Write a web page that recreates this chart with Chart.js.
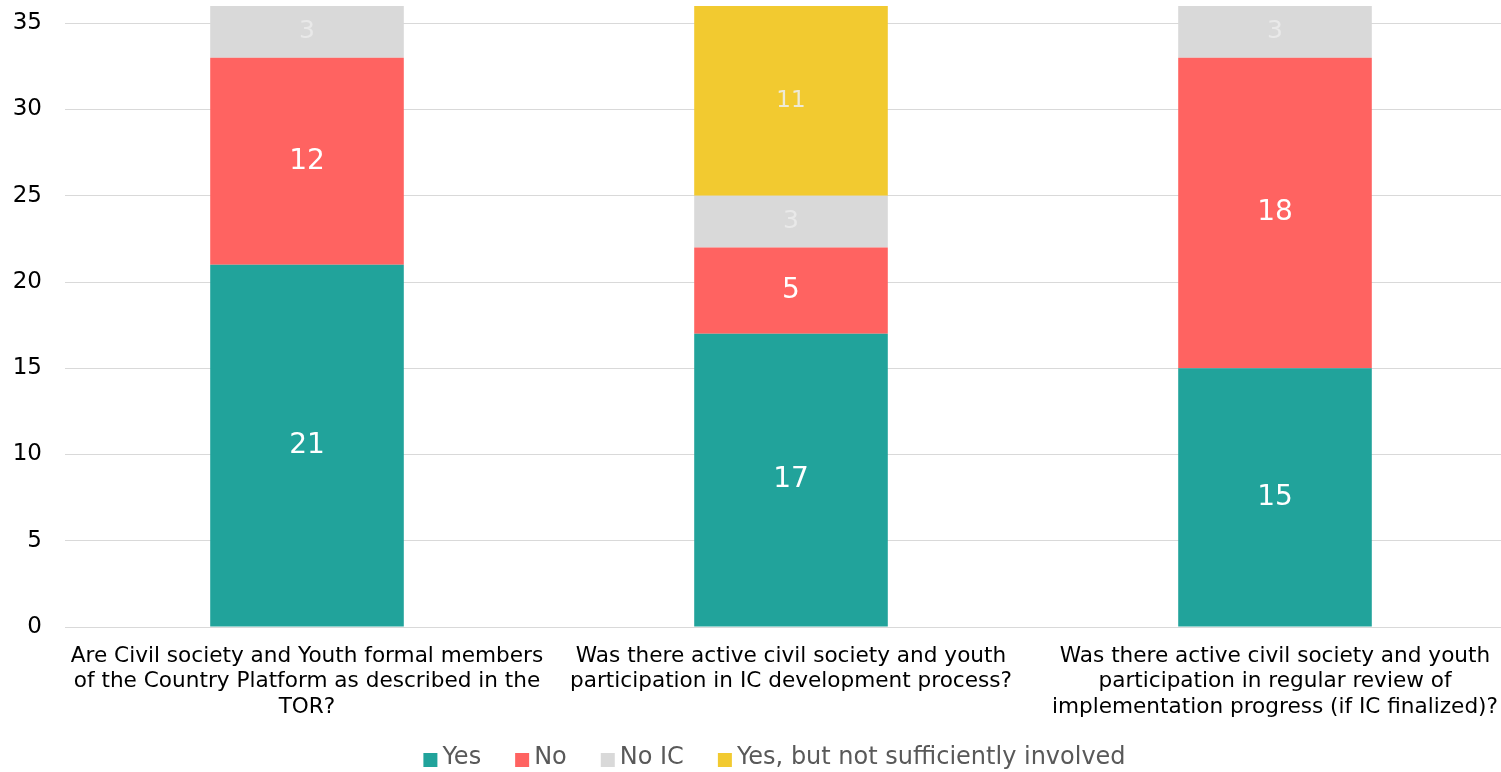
<!DOCTYPE html>
<html>
<head>
<meta charset="utf-8">
<script src="https://cdn.jsdelivr.net/npm/chart.js@4/dist/chart.umd.min.js"></script>
<style>
  html, body { margin: 0; padding: 0; background: #fff; overflow: hidden; }
  #wrap { position: relative; width: 1549px; height: 772px; }
</style>
</head>
<body>
<div id="wrap"><canvas id="c" width="1549" height="772"></canvas></div>
<script>
// Survey questions (category labels, pre-wrapped)
const questions = [
  ["Are Civil society and Youth formal members", "of the Country Platform as described in the", "TOR?"],
  ["Was there active civil society and youth", "participation in IC development process?"],
  ["Was there active civil society and youth", "participation in regular review of", "implementation progress (if IC finalized)?"]
];

// Response counts per question
const yesCounts = [21, 17, 15];
const noCounts = [12, 5, 18];
const noIcCounts = [3, 3, 3];
const yesInsufficientCounts = [null, 11, null];

const seriesNames = ["Yes", "No", "No IC", "Yes, but not sufficiently involved"];
const yTicks = [0, 5, 10, 15, 20, 25, 30, 35];

const FONT = "'DejaVu Sans', Verdana, sans-serif";

// Writes each segment's count in the middle of the segment
const segmentLabels = {
  id: 'segmentLabels',
  afterDatasetsDraw(chart) {
    const ctx = chart.ctx;
    chart.data.datasets.forEach((ds, i) => {
      const meta = chart.getDatasetMeta(i);
      if (meta.hidden) return;
      meta.data.forEach((el, j) => {
        const v = ds.data[j];
        if (v === null || v === 0) return;
        ctx.save();
        ctx.fillStyle = ds.labelColor;
        ctx.font = ds.labelSize + 'px ' + FONT;
        ctx.textAlign = 'center';
        ctx.textBaseline = 'middle';
        ctx.fillText(String(v), el.x, (el.y + el.base) / 2);
        ctx.restore();
      });
    });
  }
};

// Compact legend row under the axis labels: small square, tight gap, then the series name
const compactLegend = {
  id: 'compactLegend',
  afterDraw(chart) {
    const ctx = chart.ctx;
    const fontSize = 24, box = 14, gap = 5, spacing = 34;
    const midY = 758;
    ctx.save();
    ctx.font = fontSize + 'px ' + FONT;
    const items = chart.data.datasets.map(ds => ({
      text: ds.label, color: ds.backgroundColor, w: ctx.measureText(ds.label).width
    }));
    const total = items.reduce((s, it) => s + box + gap + it.w, 0) + spacing * (items.length - 1);
    let x = chart.width / 2 - total / 2;
    items.forEach(it => {
      ctx.fillStyle = it.color;
      ctx.fillRect(x, midY - 5, box, box);
      x += box + gap;
      ctx.fillStyle = '#595959';
      ctx.textAlign = 'left';
      ctx.textBaseline = 'middle';
      ctx.fillText(it.text, x, midY);
      x += it.w + spacing;
    });
    ctx.restore();
  }
};

new Chart(document.getElementById('c'), {
  type: 'bar',
  data: {
    labels: questions,
    datasets: [
      { label: seriesNames[0], data: yesCounts, backgroundColor: '#21A39B', labelColor: '#ffffff', labelSize: 28 },
      { label: seriesNames[1], data: noCounts, backgroundColor: '#FF6361', labelColor: '#ffffff', labelSize: 28 },
      { label: seriesNames[2], data: noIcCounts, backgroundColor: '#D9D9D9', labelColor: '#E9E9E9', labelSize: 25 },
      { label: seriesNames[3], data: yesInsufficientCounts, backgroundColor: '#F2CA30', labelColor: '#EEEAD6', labelSize: 23 }
    ]
  },
  options: {
    responsive: false,
    animation: false,
    devicePixelRatio: 1,
    layout: { padding: { top: 6, right: 32, bottom: 0, left: 0 } },
    datasets: { bar: { barPercentage: 0.4, categoryPercentage: 1.0 } },
    scales: {
      x: {
        stacked: true,
        grid: { display: false },
        border: { display: false },
        ticks: {
          color: '#000000',
          font: { family: FONT, size: 21.6, lineHeight: 1.2 },
          maxRotation: 0,
          autoSkip: false,
          padding: 8
        },
        afterFit(scale) {
          scale.height = 145;
          scale.paddingLeft = 0;
          scale.paddingRight = 0;
        }
      },
      y: {
        stacked: true,
        min: 0,
        max: 36,
        afterBuildTicks(scale) { scale.ticks = yTicks.map(v => ({ value: v })); },
        grid: { color: '#D9D9D9', lineWidth: 1, drawTicks: false },
        border: { display: false },
        ticks: {
          color: '#000000',
          font: { family: FONT, size: 23 },
          padding: 23
        },
        afterFit(scale) {
          scale.width = 65;
          scale.paddingTop = 0;
          scale.paddingBottom = 0;
        }
      }
    },
    plugins: {
      legend: { display: false },
      tooltip: { enabled: false }
    }
  },
  plugins: [segmentLabels, compactLegend]
});
</script>
</body>
</html>
